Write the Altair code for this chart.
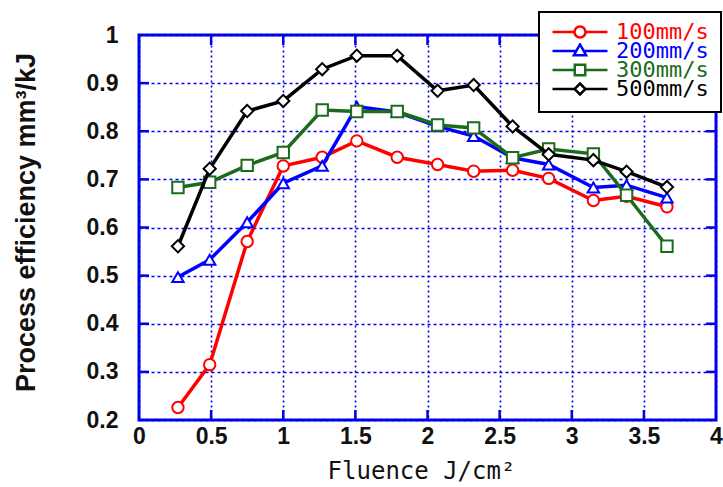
import altair as alt
import pandas as pd

# ---- data ----
fluence = [0.27, 0.49, 0.75, 1.0, 1.27, 1.51, 1.79, 2.07, 2.32, 2.59, 2.84, 3.15, 3.38, 3.66]
eff_100 = [0.226, 0.315, 0.571, 0.728, 0.746, 0.780, 0.746, 0.731, 0.717, 0.719, 0.702, 0.656, 0.665, 0.643]
eff_200 = [0.497, 0.533, 0.611, 0.692, 0.728, 0.851, 0.840, 0.810, 0.790, 0.745, 0.731, 0.683, 0.688, 0.662]
eff_300 = [0.683, 0.694, 0.729, 0.756, 0.844, 0.841, 0.841, 0.813, 0.807, 0.745, 0.763, 0.753, 0.667, 0.561]
eff_500 = [0.561, 0.722, 0.842, 0.863, 0.929, 0.957, 0.957, 0.884, 0.896, 0.810, 0.752, 0.740, 0.716, 0.684]

series = ["100mm/s", "200mm/s", "300mm/s", "500mm/s"]
values = [eff_100, eff_200, eff_300, eff_500]

x_ticks = [0, 0.5, 1, 1.5, 2, 2.5, 3, 3.5, 4]
y_ticks = [0.2, 0.3, 0.4, 0.5, 0.6, 0.7, 0.8, 0.9, 1.0]

# ---- styles ----
colors = ["#ff0000", "#0000ff", "#1c6b1c", "#000000"]
shapes = ["circle", "triangle-up", "square", "diamond"]
legend_paths = [
    "M-1,0H-0.2M0.2,0H1M0.2,0A0.2,0.2,0,1,1,-0.2,0A0.2,0.2,0,1,1,0.2,0Z",
    "M-1,0H-0.14M0.14,0H1M0,-0.24L0.22,0.15L-0.22,0.15Z",
    "M-1,0H-0.19M0.19,0H1M-0.19,-0.19H0.19V0.19H-0.19Z",
    "M-1,0H-0.2M0.2,0H1M0,-0.2L0.2,0L0,0.2L-0.2,0Z",
]
BLUE = "#0000ee"
W, H = 577, 385

rows = []
for s, vals in zip(series, values):
    for f, v in zip(fluence, vals):
        rows.append({"fluence": f, "eff": v, "series": s})
df = pd.DataFrame(rows)

x_scale = alt.Scale(domain=[0, 4], nice=False, zero=False)
y_scale = alt.Scale(domain=[0.2, 1.0], nice=False, zero=False)

x_axis = alt.Axis(
    values=x_ticks, format="~g", grid=True, gridColor=BLUE, gridDash=[2, 3], gridWidth=1.6,
    domain=False, ticks=False, labelFont="Liberation Sans", labelFontSize=23, labelFontWeight="bold",
    labelColor="#111111", labelPadding=5, labelFlush=False,
    title="Fluence J/cm²", titleFont="DejaVu Sans Mono", titleFontSize=24, titleFontWeight="normal",
    titleColor="#111111", titlePadding=11, titleX=282,
)
y_axis = alt.Axis(
    values=y_ticks, format="~g", grid=True, gridColor=BLUE, gridDash=[3, 3], gridWidth=1.6,
    domain=False, ticks=False, labelFont="Liberation Sans", labelFontSize=23, labelFontWeight="bold",
    labelColor="#111111", labelPadding=21, labelFlush=False,
    title="Process efficiency mm³/kJ", titleFont="Liberation Sans", titleFontSize=27,
    titleFontWeight="bold", titleColor="#111111", titlePadding=46, titleY=187,
)


def X(field):
    return alt.X(field, scale=x_scale, axis=x_axis)


def Y(field):
    return alt.Y(field, scale=y_scale, axis=y_axis)


base = alt.Chart(df)
layers = []

# inward tick marks
xt = pd.DataFrame({"t": x_ticks[1:-1]})
yt = pd.DataFrame({"t": y_ticks[1:-1]})
tick_style = dict(color=BLUE, strokeWidth=2.5)
layers += [
    alt.Chart(xt).mark_rule(**tick_style).encode(x=X("t:Q"), y=alt.value(H - 10), y2=alt.value(H)),
    alt.Chart(xt).mark_rule(**tick_style).encode(x=X("t:Q"), y=alt.value(0), y2=alt.value(10)),
    alt.Chart(yt).mark_rule(**tick_style).encode(y=Y("t:Q"), x=alt.value(0), x2=alt.value(10)),
    alt.Chart(yt).mark_rule(**tick_style).encode(y=Y("t:Q"), x=alt.value(W - 10), x2=alt.value(W)),
]

for s, c, sh in zip(series, colors, shapes):
    sb = base.transform_filter(alt.datum.series == s)
    enc = dict(x=X("fluence:Q"), y=Y("eff:Q"))
    layers.append(sb.mark_line(color=c, strokeWidth=3.5).encode(**enc))
    layers.append(
        sb.mark_point(shape=sh, filled=True, fill="white", stroke=c, strokeWidth=2,
                      size=130 if sh != "diamond" else 150, opacity=1).encode(**enc)
    )

# legend-only layer (no data drawn)
label_expr = " : ".join(f"datum.value == '{s}' ? '{c}'" for s, c in zip(series[:-1], colors[:-1])) + f" : '{colors[-1]}'"
layers.append(
    base.transform_filter("false").mark_point(size=3025, strokeWidth=2.5, opacity=1).encode(
        x=X("fluence:Q"),
        y=Y("eff:Q"),
        color=alt.Color("series:N", scale=alt.Scale(domain=series, range=colors),
                        legend=alt.Legend(
                            title=None, orient="none", legendX=400, legendY=-23,
                            symbolSize=3025, symbolStrokeWidth=2.5, symbolFillColor="white",
                            labelFont="DejaVu Sans Mono", labelFontSize=22, labelOffset=7,
                            labelColor={"expr": label_expr}, clipHeight=16,
                            rowPadding=-4, padding=12, strokeColor="black", fillColor="white",
                        )),
        shape=alt.Shape("series:N", scale=alt.Scale(domain=series, range=legend_paths),
                        legend=alt.Legend(title=None)),
    )
)

chart = (
    alt.layer(*layers)
    .properties(
        width=W, height=H,
        padding={"left": 139, "top": 35, "right": 7, "bottom": 67},
        autosize=alt.AutoSizeParams(type="none"),
        background="white",
    )
    .configure_view(stroke=BLUE, strokeWidth=3)
    .configure_legend(strokeWidth=2)
)

chart.save("out.html", embed_options={"renderer": "svg", "actions": False})
